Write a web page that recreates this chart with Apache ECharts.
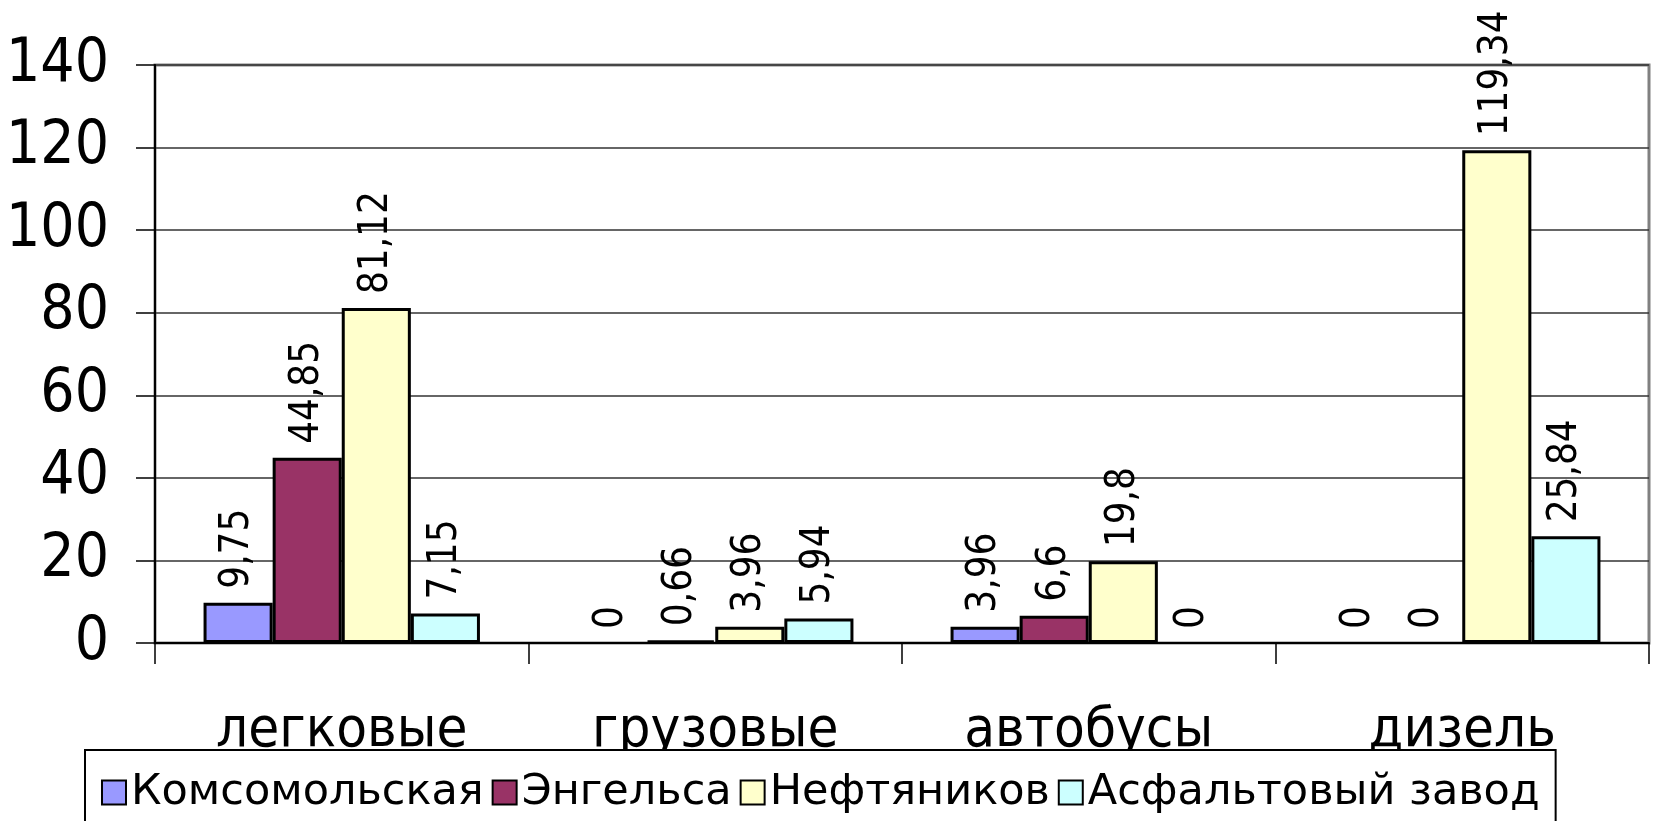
<!DOCTYPE html>
<html>
<head>
<meta charset="utf-8">
<script src="https://cdn.jsdelivr.net/npm/echarts@6/dist/echarts.min.js"></script>
<style>
html,body{margin:0;padding:0;background:#fff;}
#chart{width:1661px;height:821px;}
</style>
</head>
<body>
<div id="chart"></div>
<script>
const categories = ['легковые', 'грузовые', 'автобусы', 'дизель'];
const seriesNames = ['Комсомольская', 'Энгельса', 'Нефтяников', 'Асфальтовый завод'];
const komsomolskaya = [9.75, 0, 3.96, 0];
const engelsa = [44.85, 0.66, 6.6, 0];
const neftyanikov = [81.12, 3.96, 19.8, 119.34];
const asfalt = [7.15, 5.94, 0, 25.84];
const yTicks = [0, 20, 40, 60, 80, 100, 120, 140];
const colors = ['#9999FF', '#993366', '#FFFFCC', '#CCFFFF'];

const FONT_C = '"DejaVu Sans Condensed", "DejaVu Sans", sans-serif';
const FONT = '"DejaVu Sans", sans-serif';
const valuesList = [komsomolskaya, engelsa, neftyanikov, asfalt];

const chart = echarts.init(document.getElementById('chart'));
chart.setOption({
  animation: false,
  backgroundColor: '#fff',
  grid: {
    left: 155, right: 12, top: 65, bottom: 178,
    show: true, borderColor: '#808080', borderWidth: 3, backgroundColor: 'transparent'
  },
  legend: {
    data: seriesNames,
    left: 85, top: 750,
    width: 1540,
    padding: [21, 16, 40, 16],
    backgroundColor: '#fff',
    borderColor: '#000', borderWidth: 2,
    itemWidth: 24, itemHeight: 24, itemGap: 8,
    icon: 'rect',
    itemStyle: { borderColor: '#000', borderWidth: 2 },
    textStyle: { fontFamily: FONT, fontSize: 43, color: '#000' },
    z: 10
  },
  xAxis: {
    type: 'category',
    data: categories,
    axisLine: { lineStyle: { color: '#000', width: 2 } },
    axisTick: { show: true, alignWithLabel: false, length: 21, lineStyle: { color: '#000', width: 1.5 } },
    axisLabel: { fontFamily: FONT_C, fontSize: 56, color: '#000', margin: 60 }
  },
  yAxis: {
    type: 'value',
    min: 0, max: 140, interval: 20,
    axisLine: { show: true, lineStyle: { color: '#000', width: 2 } },
    axisTick: { show: true, length: 19, lineStyle: { color: '#000', width: 1.5 } },
    axisLabel: {
      fontFamily: FONT_C, fontSize: 60, color: '#000', margin: 46,
      formatter: v => yTicks.includes(v) ? String(v) : ''
    },
    splitLine: { show: true, lineStyle: { color: '#333', width: 1.5 } }
  },
  series: seriesNames.map((name, i) => ({
    name: name,
    type: 'bar',
    data: valuesList[i].map(v => ({
      value: v,
      itemStyle: v === 0 ? { borderWidth: 0 } : undefined
    })),
    barGap: '0%',
    barCategoryGap: '26%',
    itemStyle: { color: colors[i], borderColor: '#000', borderWidth: 3 },
    label: {
      show: true,
      position: 'top',
      rotate: 90,
      align: 'left',
      verticalAlign: 'middle',
      distance: 14,
      fontFamily: FONT_C,
      fontSize: 40,
      color: '#000',
      formatter: p => String(p.value).replace('.', ',')
    }
  }))
});
</script>
</body>
</html>
